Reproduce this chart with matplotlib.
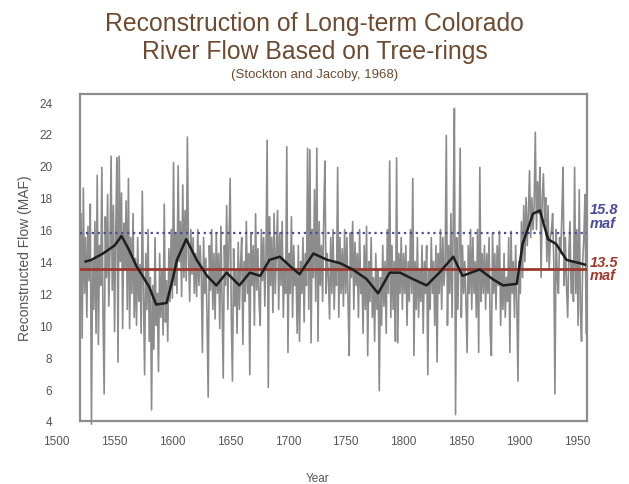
import numpy as np
import matplotlib
matplotlib.use("Agg")
import matplotlib.pyplot as plt
import matplotlib.transforms as mtransforms

plt.rcParams['font.family'] = ['Liberation Sans', 'DejaVu Sans']

# annual reconstructed flow (MAF), 1520 onwards, one row per decade
start_year = 1520
flow = [
    11.5, 17.0, 9.2, 18.6, 12.0, 15.5, 10.5, 16.2, 12.8, 17.6,
    3.8, 14.0, 11.0, 16.5, 9.5, 19.4, 8.8, 15.0, 12.5, 19.9,
    10.8, 5.7, 16.8, 13.0, 18.2, 11.2, 14.5, 20.6, 12.2, 17.5,
    9.6, 15.8, 20.5, 7.7, 20.6, 14.0, 18.3, 9.8, 16.4, 13.5,
    17.8, 11.0, 19.2, 9.8, 15.5, 12.0, 17.0, 10.5, 14.2, 10.0,
    15.5, 11.5, 13.8, 9.5, 18.4, 12.0, 6.9, 14.5, 11.0, 16.0,
    9.0, 13.0, 4.7, 12.5, 8.5, 15.5, 10.0, 12.0, 7.1, 14.5,
    10.5, 13.5, 9.4, 17.6, 10.2, 12.8, 9.0, 14.8, 11.5, 16.0,
    11.7, 20.2, 12.5, 15.8, 12.0, 20.0, 14.0, 16.5, 11.8, 18.8,
    13.0, 17.2, 12.8, 21.8, 14.5, 11.5, 16.0, 13.2, 15.5, 12.0,
    14.5, 11.8, 16.0, 12.5, 15.0, 13.2, 8.3, 15.5, 12.0, 14.2,
    10.5, 5.5, 15.0, 12.2, 16.0, 11.0, 14.5, 10.4, 15.8, 12.0,
    14.5, 9.8, 16.2, 11.5, 6.7, 15.0, 12.5, 17.5, 11.0, 15.0,
    19.2, 10.5, 6.5, 14.8, 11.2, 13.5, 9.5, 15.2, 11.0, 13.8,
    15.5, 8.8, 14.0, 11.5, 16.5, 12.0, 14.5, 6.9, 15.8, 12.5,
    15.0, 10.0, 17.0, 12.2, 14.8, 11.5, 10.0, 16.0, 12.8, 15.5,
    11.2, 14.5, 21.6, 6.1, 16.8, 12.5, 15.5, 10.8, 17.0, 12.0,
    14.5, 17.2, 11.0, 15.8, 12.5, 16.5, 10.5, 14.0, 12.0, 21.2,
    8.3, 14.5, 12.0, 16.8, 10.5, 15.0, 12.5, 13.5, 9.5, 15.0,
    9.0, 14.0, 12.0, 15.5, 10.2, 14.5, 12.5, 21.1, 11.0, 21.0,
    8.9, 16.0, 13.0, 18.5, 11.5, 21.1, 9.0, 16.5, 12.5, 15.0,
    11.5, 17.0, 20.3, 12.0, 14.5, 13.0, 10.4, 15.5, 12.0, 16.0,
    11.0, 14.0, 12.5, 19.9, 10.5, 15.5, 12.0, 14.8, 11.2, 16.0,
    12.0, 15.5, 11.5, 8.1, 15.8, 13.0, 16.5, 11.0, 15.2, 12.5,
    14.5, 10.5, 16.0, 12.0, 13.5, 9.5, 15.0, 11.0, 16.2, 8.1,
    14.0, 11.5, 15.5, 10.5, 13.0, 9.0, 14.5, 11.0, 13.5, 5.9,
    13.0, 10.0, 15.0, 11.2, 14.0, 9.5, 16.0, 12.0, 20.3, 10.5,
    15.0, 11.0, 14.0, 9.0, 20.5, 8.9, 14.5, 12.0, 15.5, 11.0,
    14.5, 12.0, 15.0, 10.0, 14.0, 11.5, 16.0, 12.0, 19.2, 8.1,
    14.0, 11.0, 15.5, 10.5, 13.5, 11.5, 15.0, 9.5, 14.0, 12.0,
    15.0, 6.9, 13.5, 11.0, 15.5, 12.0, 14.0, 10.0, 15.0, 7.7,
    14.5, 12.0, 16.0, 11.0, 15.5, 12.5, 14.0, 21.9, 10.0, 15.0,
    12.0, 17.0, 10.5, 16.5, 23.6, 4.4, 15.5, 11.0, 14.5, 21.1,
    10.5, 15.0, 12.0, 14.0, 11.5, 8.3, 15.0, 12.0, 16.0, 11.0,
    15.5, 12.0, 14.0, 10.5, 16.0, 8.3, 19.9, 11.5, 14.5, 12.0,
    15.0, 11.0, 14.5, 12.0, 15.5, 9.5, 8.1, 15.8, 12.0, 14.5,
    11.0, 15.0, 12.5, 15.9, 10.0, 13.5, 11.0, 14.5, 10.5, 13.0,
    11.5, 15.5, 8.3, 15.9, 12.0, 14.0, 10.5, 15.0, 11.5, 6.5,
    14.0, 12.0, 16.5, 13.0, 17.5, 14.0, 18.0, 15.0, 17.0, 19.7,
    15.5, 18.0, 16.0, 17.5, 22.1, 16.0, 19.0, 17.0, 19.9, 13.0,
    18.0, 19.5, 16.5, 18.0, 14.0, 17.5, 13.5, 15.5, 16.0, 17.0,
    14.0, 5.7, 16.0, 13.0, 12.0, 15.5, 14.5, 17.0, 19.9, 12.5,
    15.5, 12.5, 10.5, 14.5, 16.5, 12.0, 14.0, 11.5, 19.9, 12.0,
    16.0, 10.0, 18.5, 11.0, 9.0, 14.0, 15.5, 18.2, 9.5,
]

# smoothed curve
smooth_years = [1525, 1530, 1540, 1550, 1556, 1562, 1569, 1575, 1580, 1586,
                1595, 1600, 1604, 1612, 1621, 1630, 1638, 1647, 1658, 1667,
                1676, 1684, 1693, 1702, 1710, 1722, 1734, 1745, 1756, 1768,
                1778, 1788, 1797, 1808, 1820, 1831, 1843, 1851, 1866, 1877,
                1886, 1898, 1903, 1912, 1918, 1925, 1932, 1941, 1952, 1957]
smooth_flow = [14.0, 14.1, 14.5, 15.0, 15.6, 14.8, 13.7, 13.0, 12.4, 11.3,
               11.4, 12.8, 14.1, 15.4, 14.1, 13.1, 12.5, 13.3, 12.5, 13.3,
               13.1, 14.1, 14.3, 13.7, 13.2, 14.5, 14.1, 13.9, 13.5, 12.9,
               12.0, 13.3, 13.3, 12.9, 12.5, 13.3, 14.3, 13.1, 13.5, 12.9,
               12.5, 12.6, 15.1, 17.0, 17.2, 15.4, 15.1, 14.1, 13.9, 13.8]

mean_recon = 13.5
mean_gauged = 15.8
year_ticks = [1500, 1550, 1600, 1650, 1700, 1750, 1800, 1850, 1900, 1950]
flow_ticks = [4, 6, 8, 10, 12, 14, 16, 18, 20, 22, 24]

years = np.arange(start_year, start_year + len(flow))

fig = plt.figure(figsize=(6.29, 4.85), dpi=100)
ax = fig.add_axes([0.127, 0.130, 0.806, 0.674])

ax.plot(years, flow, color='#8c8c8c', lw=1.2, clip_on=False, zorder=2)
ax.axhline(mean_gauged, color='#4a4a9c', lw=1.6, ls=':', zorder=3)
ax.axhline(mean_recon, color='#9c3a2c', lw=2.0, zorder=3)
ax.plot(smooth_years, smooth_flow, color='#1e1e1e', lw=1.8, zorder=4)

ax.set_xlim(1520, 1958.6)
ax.set_ylim(4.3, 24.5)
ax.set_yticks(flow_ticks)
ax.set_yticklabels([str(t) for t in flow_ticks])
ax.set_xticks([])
ax.tick_params(axis='y', length=0, pad=20, labelsize=8.5, labelcolor='#555555')
for s in ax.spines.values():
    s.set_color('#8c8c8c')
    s.set_linewidth(1.6)

# year labels sit under the box, 1500 falls left of it
trans = mtransforms.blended_transform_factory(ax.transData, ax.transAxes)
for yr in year_ticks:
    ax.text(yr, -0.062, str(yr), transform=trans, ha='center', va='center',
            fontsize=8.5, color='#555555', clip_on=False)

ax.set_ylabel('Reconstructed Flow (MAF)', fontsize=10, color='#555555', labelpad=5)
fig.text(0.505, 0.012, 'Year', ha='center', va='center', fontsize=8.5, color='#555555')

fig.text(0.5, 0.950, 'Reconstruction of Long-term Colorado', ha='center', va='center',
         fontsize=17.8, color='#6e4a30')
fig.text(0.5, 0.893, 'River Flow Based on Tree-rings', ha='center', va='center',
         fontsize=17.8, color='#6e4a30')
fig.text(0.5, 0.845, '(Stockton and Jacoby, 1968)', ha='center', va='center',
         fontsize=9.5, color='#6e4a30')

fig.text(0.938, 0.553, '15.8\nmaf', ha='left', va='center', fontsize=10.5,
         fontweight='bold', fontstyle='italic', color='#4a4a9c', linespacing=0.95)
fig.text(0.938, 0.444, '13.5\nmaf', ha='left', va='center', fontsize=10.5,
         fontweight='bold', fontstyle='italic', color='#9c3a2c', linespacing=0.95)

fig.savefig('out.png', dpi=100)
